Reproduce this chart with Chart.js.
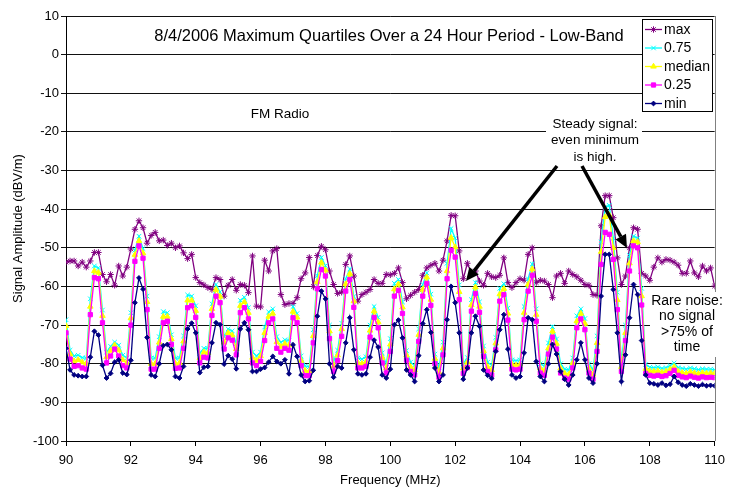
<!DOCTYPE html>
<html>
<head>
<meta charset="utf-8">
<title>Maximum Quartiles - Low-Band</title>
<script src="https://cdn.jsdelivr.net/npm/chart.js@4.4.1/dist/chart.umd.min.js"></script>
<style>
  html, body { margin: 0; padding: 0; background: #fff; }
  #wrap { width: 732px; height: 494px; }
</style>
</head>
<body>
<div id="wrap"><canvas id="myChart" width="732" height="494"></canvas></div>
<script>
// frequency axis, one row per MHz
var freqMHz = [
  90, 90.125, 90.25, 90.375, 90.5, 90.625, 90.75, 90.875,
  91, 91.125, 91.25, 91.375, 91.5, 91.625, 91.75, 91.875,
  92, 92.125, 92.25, 92.375, 92.5, 92.625, 92.75, 92.875,
  93, 93.125, 93.25, 93.375, 93.5, 93.625, 93.75, 93.875,
  94, 94.125, 94.25, 94.375, 94.5, 94.625, 94.75, 94.875,
  95, 95.125, 95.25, 95.375, 95.5, 95.625, 95.75, 95.875,
  96, 96.125, 96.25, 96.375, 96.5, 96.625, 96.75, 96.875,
  97, 97.125, 97.25, 97.375, 97.5, 97.625, 97.75, 97.875,
  98, 98.125, 98.25, 98.375, 98.5, 98.625, 98.75, 98.875,
  99, 99.125, 99.25, 99.375, 99.5, 99.625, 99.75, 99.875,
  100, 100.125, 100.25, 100.375, 100.5, 100.625, 100.75, 100.875,
  101, 101.125, 101.25, 101.375, 101.5, 101.625, 101.75, 101.875,
  102, 102.125, 102.25, 102.375, 102.5, 102.625, 102.75, 102.875,
  103, 103.125, 103.25, 103.375, 103.5, 103.625, 103.75, 103.875,
  104, 104.125, 104.25, 104.375, 104.5, 104.625, 104.75, 104.875,
  105, 105.125, 105.25, 105.375, 105.5, 105.625, 105.75, 105.875,
  106, 106.125, 106.25, 106.375, 106.5, 106.625, 106.75, 106.875,
  107, 107.125, 107.25, 107.375, 107.5, 107.625, 107.75, 107.875,
  108, 108.125, 108.25, 108.375, 108.5, 108.625, 108.75, 108.875,
  109, 109.125, 109.25, 109.375, 109.5, 109.625, 109.75, 109.875,
  110
];

var maxVals = [
  -53.7, -53.4, -53.4, -54.7, -53.7, -55, -53.4, -51.2,
  -51.2, -56.9, -58.8, -56.9, -59.7, -54.7, -57.3, -55,
  -50.3, -45.2, -43, -44.8, -48.8, -46.8, -46, -48.2,
  -48, -49.4, -48.8, -50, -49.5, -51.3, -52.8, -51.7,
  -57.7, -59, -59.6, -60.3, -60.8, -57.7, -58.2, -62.5,
  -59.7, -58.2, -61, -59.5, -59.7, -61.6, -52.1, -65.1,
  -65.3, -53.2, -56, -50.8, -50.2, -62.1, -64.7, -64.4,
  -64.4, -62.9, -58, -56.5, -52.5, -60, -52, -49.6,
  -50.5, -56, -59.5, -61.8, -61.5, -54.3, -52.1, -57.3,
  -63.8, -62.1, -61.5, -60.8, -58.2, -59.2, -59.2, -56.9,
  -57, -56.6, -55.2, -59, -63.2, -62.3, -61.5, -60.8,
  -57.1, -55.2, -54.5, -54, -56, -53.2, -48.2, -41.6,
  -41.7, -50.8, -58, -54, -56.6, -56, -58.6, -59.7,
  -56.6, -57.5, -57.7, -57.1, -52.6, -59, -60.3, -59,
  -58, -58.4, -51.7, -50, -59, -58.4, -58.6, -59.5,
  -62.9, -57.3, -56.6, -59.2, -56, -56.9, -57.5, -58.4,
  -59.5, -59.7, -62.1, -62.3, -44.3, -36.5, -36.5, -42.2,
  -52.6, -59.5, -57.3, -50, -44.8, -45.2, -56.6, -57.3,
  -58.4, -55, -52.6, -53.7, -53, -53.2, -53.7, -54.5,
  -56.6, -56.6, -53.4, -56.5, -57.5, -54.7, -56, -55.2,
  -59.9
];

var q75Vals = [
  -68.6, -76.5, -78, -77.8, -78.4, -78.6, -63.2, -54.7,
  -55.2, -66.1, -77, -75.5, -74.4, -75.2, -77.8, -78.5,
  -66.8, -50.6, -47, -50.2, -62.5, -78.5, -78.6, -73,
  -66.5, -66.8, -72.5, -78.6, -78.5, -72.8, -62.2, -62.5,
  -65, -77.3, -76, -76, -64.5, -59.5, -61.4, -73,
  -71, -71.5, -74.8, -63.6, -62.8, -65.5, -77, -78,
  -77, -70.5, -66.6, -65.8, -73, -74.5, -73.8, -74,
  -65.2, -67, -78, -80.6, -80.8, -71.2, -57.2, -52.5,
  -54.6, -70, -79.5, -76.5, -69.5, -58, -55.5, -62.6,
  -78.5, -78.8, -78.2, -70, -65.2, -68, -77.2, -80,
  -73.5, -59.2, -58.2, -64, -76.6, -79.6, -80.5, -71,
  -59.5, -56.5, -62, -77.5, -81, -74.4, -54, -45,
  -47.5, -59.6, -80, -78.4, -63.4, -59, -64, -75.4,
  -79.6, -80.4, -73.2, -60.5, -59.3, -65.6, -79, -79.2,
  -79, -65.2, -58, -54.2, -65.8, -80, -80.6, -74.6,
  -70.4, -73.6, -80, -81.4, -81.6, -78.5, -67.6, -65.8,
  -68.3, -80, -81.6, -72.8, -48.5, -39.5, -39, -47.5,
  -61.5, -79.5, -70, -52, -47, -47.5, -60.5, -80.2,
  -80.9, -81, -80.8, -81.2, -81, -80.5, -79.8, -81,
  -81.2, -81.4, -81.1, -81.3, -81.5, -81.3, -81.4, -81.4,
  -81.5
];

var medianVals = [
  -70.2, -77.5, -79.3, -79, -79.6, -80, -65.2, -56,
  -56.4, -67.6, -78.3, -76.6, -75.2, -76.5, -79, -79.8,
  -68.2, -51.8, -48.2, -51.4, -64, -80, -80, -74.5,
  -67.8, -67.8, -73.6, -80, -79.8, -74.2, -63.6, -63.6,
  -66.3, -78.5, -77, -77.2, -65.8, -60.8, -62.6, -74.5,
  -72, -72.6, -76.2, -65, -64, -66.8, -78.4, -79.2,
  -78, -72, -67.8, -67, -74.4, -75.6, -74.8, -75.2,
  -66.5, -68, -79.2, -81.8, -82, -72.8, -58.8, -53.8,
  -55.8, -71.6, -80.7, -77.8, -71, -59.4, -56.7, -63.8,
  -79.8, -80, -79.5, -71.4, -66.4, -69.2, -78.4, -81.2,
  -75, -60.7, -59.4, -65.4, -77.8, -80.8, -81.6, -72.5,
  -60.8, -57.6, -63.4, -78.7, -82.2, -76, -56, -47.4,
  -49.8, -61.4, -81.2, -79.6, -64.8, -60.2, -65.2, -76.7,
  -80.8, -81.6, -74.7, -62, -60.6, -67, -80.2, -80.4,
  -80.2, -66.8, -59.5, -55.5, -67.3, -81.2, -81.8, -76,
  -71.6, -74.8, -81.2, -82.5, -82.8, -79.8, -69, -67,
  -69.6, -81.2, -82.8, -74.6, -51, -42, -41.5, -50,
  -63.5, -80.8, -72, -54, -48.2, -48.5, -62.5, -81.3,
  -81.9, -82, -81.9, -82.2, -82, -81.5, -80.8, -82,
  -82.3, -82.5, -82.1, -82.4, -82.6, -82.3, -82.5, -82.4,
  -82.5
];

var q25Vals = [
  -72, -78.8, -80.7, -80.5, -81.1, -81.4, -67.3, -57.7,
  -58, -69.4, -79.8, -78, -76.2, -78, -80.5, -81.1,
  -70, -53.5, -49.5, -52.7, -66, -81.4, -81.4, -76,
  -69.4, -69, -75, -81.2, -81.1, -76, -65.5, -65,
  -68, -79.8, -78.3, -78.5, -67.5, -62.5, -64.2, -76.2,
  -73.3, -73.9, -77.7, -66.8, -65.5, -68.4, -79.8, -80.5,
  -79.4, -74, -69.4, -68.4, -76, -77, -76, -76.5,
  -68.1, -69.4, -80.5, -83.1, -83.1, -74.6, -60.6, -55.6,
  -57.3, -73.5, -82, -79.2, -72.9, -61.2, -58.2, -65.4,
  -81.1, -81.1, -80.7, -73.1, -68, -70.7, -79.8, -82.4,
  -76.8, -62.5, -61, -67, -79.1, -82, -82.9, -74.2,
  -62.5, -59.2, -64.9, -80, -83.5, -77.7, -58, -50.6,
  -52.4, -63.4, -82.5, -81, -66.4, -61.8, -66.7, -78.1,
  -82, -82.9, -76.4, -63.8, -62.1, -68.7, -81.4, -81.6,
  -81.4, -68.6, -61.2, -57.1, -69, -82.4, -83, -77.5,
  -73.1, -76.2, -82.4, -83.7, -84, -81.1, -70.7, -68.4,
  -71.2, -82.4, -84, -76.8, -54.3, -46, -46.5, -53,
  -66, -82, -74, -56, -49.5, -50, -64.8, -82.5,
  -83, -83.2, -83, -83.3, -83.1, -82.5, -81.7, -83,
  -83.4, -83.6, -83.2, -83.5, -83.7, -83.4, -83.6, -83.5,
  -83.6
];

var minVals = [
  -76, -81.6, -82.9, -83.1, -83.3, -83.3, -78.3, -71.6,
  -72.6, -80.4, -83.7, -82.5, -79.6, -79, -82.4, -82.8,
  -79.1, -64.2, -57.8, -60.7, -73.2, -82.9, -83.3, -80,
  -75.3, -75, -76.4, -83.3, -83.7, -80.7, -71, -69.5,
  -72, -82.3, -80.9, -80.7, -74.6, -69.4, -69.9, -80.1,
  -77.9, -78.8, -81.3, -71, -69.4, -71.2, -82, -82,
  -81.4, -81, -79.6, -78.1, -79.4, -80, -79, -82.6,
  -75.1, -78.1, -82.9, -84.6, -84.4, -81.7, -67.7, -61.2,
  -63.2, -80, -83.5, -80.7, -81.1, -74.6, -68.1, -76.4,
  -82.6, -82.9, -82.6, -78.3, -73.9, -75.7, -82.9, -83.7,
  -81.4, -69.9, -68.7, -73.3, -81.6, -82.9, -84.6, -77.9,
  -69.6, -66, -71.9, -81.1, -84.6, -82.9, -68.6, -60,
  -64.2, -72, -84, -81.1, -72, -67.7, -70.3, -81.6,
  -83, -83.8, -76.8, -71.2, -67.3, -76.2, -82.9, -83.7,
  -83.3, -77.2, -68.1, -68.6, -79.4, -83.3, -84.6, -80,
  -75, -77.5, -82, -84, -85.5, -82.9, -79, -74.6,
  -79, -83.7, -85, -80, -62.5, -51.7, -51.7, -60.8,
  -72, -84.6, -77.7, -68.1, -59.5, -62.1, -74, -82.9,
  -85, -85.2, -85.5, -85, -85.6, -85.3, -83.3, -84.8,
  -85.5, -85.8, -85.2, -85.5, -85.8, -85.4, -85.7, -85.6,
  -85.7
];

var seriesNames = ["max", "0.75", "median", "0.25", "min"];
var seriesColors = ["#800080", "#00ffff", "#ffff00", "#ff00ff", "#000080"];
var seriesMarkers = ["star", "crossRot", "triangle", "rect", "rectRot"];
var seriesRadius = [3.2, 3.2, 3.2, 3, 2.4];
var seriesValues = [maxVals, q75Vals, medianVals, q25Vals, minVals];

Chart.defaults.font.family = "'Liberation Sans', Arial, Helvetica, sans-serif";
Chart.defaults.color = "#000";

function toPoints(vals) {
  return freqMHz.map(function (f, i) {
    return { x: f, y: vals[i] };
  });
}

var datasets = seriesNames.map(function (name, k) {
  return {
    label: name,
    data: toPoints(seriesValues[k]),
    borderColor: seriesColors[k],
    backgroundColor: seriesColors[k],
    borderWidth: 1.3,
    pointStyle: seriesMarkers[k],
    pointRadius: seriesRadius[k],
    pointBorderWidth: 1,
    pointBorderColor: seriesColors[k],
    pointBackgroundColor: seriesColors[k],
    tension: 0,
    fill: false,
    order: 4 - k, // min drawn on top, like the original
  };
});

function drawArrow(ctx, x1, y1, x2, y2) {
  var ang = Math.atan2(y2 - y1, x2 - x1);
  var head = 13;
  var half = 6;
  var bx = x2 - head * Math.cos(ang);
  var by = y2 - head * Math.sin(ang);
  ctx.strokeStyle = "#000";
  ctx.fillStyle = "#000";
  ctx.lineWidth = 3.5;
  ctx.beginPath();
  ctx.moveTo(x1, y1);
  ctx.lineTo(bx, by);
  ctx.stroke();
  ctx.beginPath();
  ctx.moveTo(x2, y2);
  ctx.lineTo(bx + half * Math.sin(ang), by - half * Math.cos(ang));
  ctx.lineTo(bx - half * Math.sin(ang), by + half * Math.cos(ang));
  ctx.closePath();
  ctx.fill();
}

function drawMarker(ctx, k, x, y) {
  ctx.fillStyle = seriesColors[k];
  ctx.strokeStyle = seriesColors[k];
  ctx.lineWidth = 1;
  Chart.helpers.drawPoint(ctx, {
    pointStyle: seriesMarkers[k],
    radius: seriesRadius[k],
    borderWidth: 1,
    rotation: 0,
  }, x, y);
}

var notesPlugin = {
  id: "notes",
  afterDraw: function (chart) {
    var ctx = chart.ctx;
    var area = chart.chartArea;
    var font = "'Liberation Sans', Arial, sans-serif";
    ctx.save();

    // grey frame on the right of the plot area
    ctx.strokeStyle = "#808080";
    ctx.lineWidth = 1;
    ctx.beginPath();
    ctx.moveTo(Math.round(area.right) + 0.5, area.top);
    ctx.lineTo(Math.round(area.right) + 0.5, area.bottom);
    ctx.stroke();

    // title inside the plot
    ctx.fillStyle = "#000";
    ctx.textAlign = "center";
    ctx.textBaseline = "middle";
    ctx.font = "16.5px " + font;
    ctx.fillText("8/4/2006 Maximum Quartiles Over a 24 Hour Period - Low-Band", 389, 36);

    ctx.font = "13.5px " + font;
    ctx.fillText("FM Radio", 280, 114);

    // steady signal note
    ctx.fillStyle = "#fff";
    ctx.fillRect(546, 113, 96, 52);
    ctx.fillStyle = "#000";
    ctx.fillText("Steady signal:", 595, 124);
    ctx.fillText("even minimum", 595, 140.5);
    ctx.fillText("is high.", 595, 157);

    drawArrow(ctx, 557, 166, 466, 281);
    drawArrow(ctx, 582, 166, 627, 248);

    // rare noise note
    ctx.fillStyle = "#fff";
    ctx.fillRect(650, 292, 69, 65);
    ctx.fillStyle = "#000";
    ctx.font = "14px " + font;
    ctx.fillText("Rare noise:", 687, 301);
    ctx.fillText("no signal", 687, 316.5);
    ctx.fillText(">75% of", 687, 332);
    ctx.fillText("time", 687, 347.5);

    // legend box
    ctx.fillStyle = "#fff";
    ctx.fillRect(642, 19.5, 71, 92);
    ctx.strokeStyle = "#000";
    ctx.lineWidth = 1;
    ctx.strokeRect(642.5, 19.5, 70, 92);
    ctx.textAlign = "left";
    ctx.font = "14px " + font;
    for (var k = 0; k < seriesNames.length; k++) {
      var ly = 29.5 + k * 18.5;
      ctx.strokeStyle = seriesColors[k];
      ctx.lineWidth = 1.3;
      ctx.beginPath();
      ctx.moveTo(645, ly);
      ctx.lineTo(662, ly);
      ctx.stroke();
      drawMarker(ctx, k, 653.5, ly);
      ctx.fillStyle = "#000";
      ctx.fillText(seriesNames[k], 664, ly + 0.5);
    }
    ctx.restore();
  },
};

const ctx = document.getElementById("myChart");
new Chart(ctx, {
  type: "line",
  data: { datasets: datasets },
  options: {
    responsive: false,
    animation: false,
    devicePixelRatio: 1,
    layout: { padding: { top: 16, right: 12, left: 0, bottom: 0 } },
    plugins: {
      legend: { display: false },
      tooltip: { enabled: false },
    },
    scales: {
      x: {
        type: "linear",
        min: 90,
        max: 110,
        ticks: { stepSize: 2, font: { size: 13 }, padding: 7, maxRotation: 0, color: "#000" },
        grid: { drawOnChartArea: false, drawTicks: true, tickLength: 5, color: "#000" },
        border: { color: "#000", width: 1 },
        title: {
          display: true,
          text: "Frequency (MHz)",
          font: { size: 13 },
          color: "#000",
          padding: { top: 0, bottom: 6 },
        },
        afterFit: function (scale) {
          scale.height = 53;
        },
      },
      y: {
        min: -100,
        max: 10,
        ticks: { stepSize: 10, font: { size: 13 }, padding: 2, color: "#000" },
        grid: { color: "#111", tickLength: 5 },
        border: { color: "#000", width: 1 },
        title: {
          display: true,
          text: "Signal Amplitude (dBV/m)",
          font: { size: 13 },
          color: "#000",
          padding: { top: 11, bottom: 0 },
        },
        afterFit: function (scale) {
          scale.width = 66;
        },
      },
    },
  },
  plugins: [notesPlugin],
});
</script>
</body>
</html>
